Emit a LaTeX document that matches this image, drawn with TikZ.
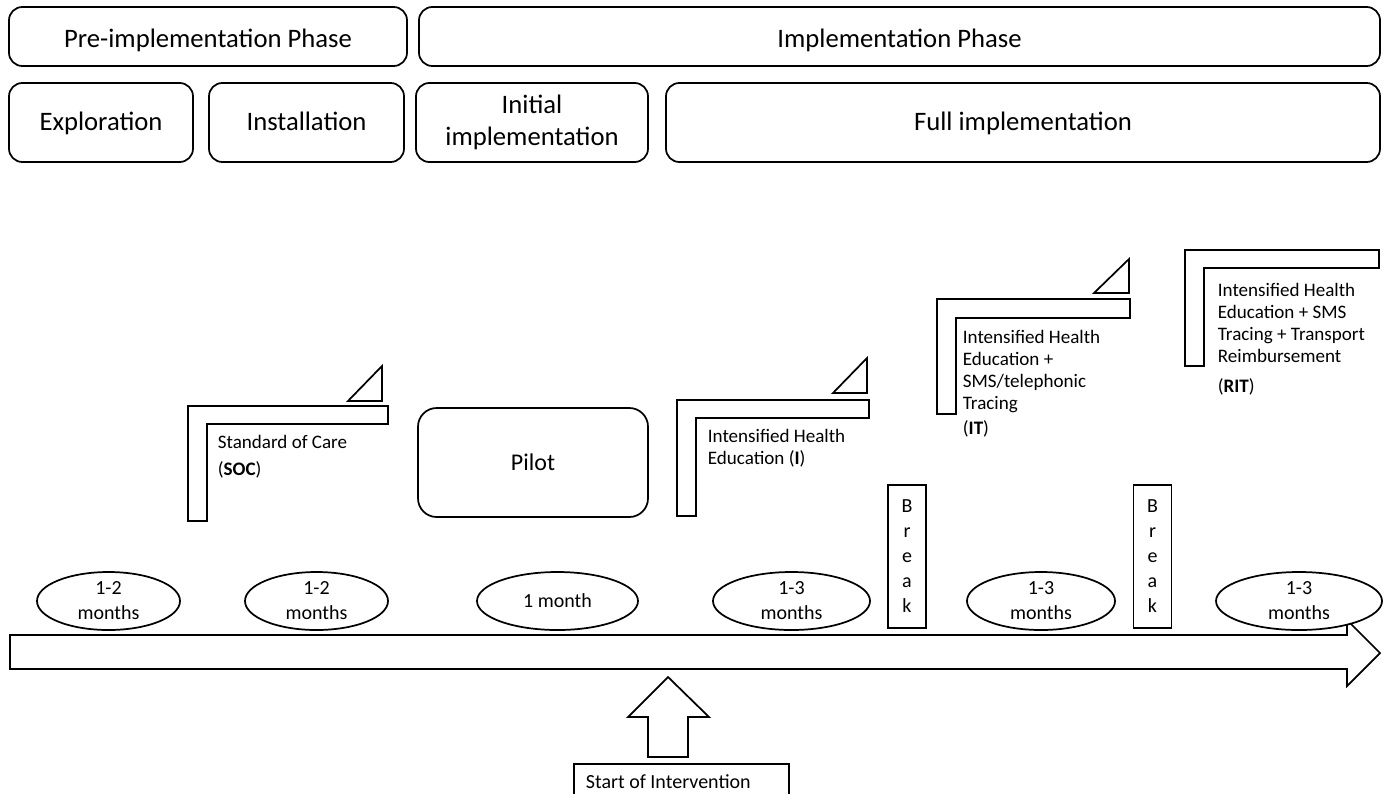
\documentclass[tikz,border=0pt]{standalone}
\usepackage{fontspec}
\setmainfont{Carlito}
\usetikzlibrary{shapes.geometric,positioning}

\tikzset{
  phase/.style={draw, rounded corners=10pt, inner sep=0pt, align=center,
    font=\fontsize{20}{24}\selectfont},
  topline/.style={text height=17pt, text depth=1.25pt},
  oneline/.style={text height=14pt, text depth=2.75pt},
  dur/.style={draw, ellipse, fill=white, inner sep=0pt, minimum height=43.5pt,
    align=center, font=\fontsize{15}{18.75}\selectfont},
  brk/.style={draw, fill=white, inner sep=0pt, minimum width=28.5pt,
    minimum height=107.25pt, align=center, font=\fontsize{15}{18.75}\selectfont},
  arm/.style={anchor=north west, align=left, inner sep=0pt,
    font=\fontsize{14.3}{16.5}\selectfont},
}

\begin{document}
\begin{tikzpicture}[x=0.75pt, y=-0.75pt, line width=1.3pt]
\useasboundingbox (0,0) rectangle (1387,793);
\clip (0,0) rectangle (1387,793);

% phases
\node[phase, topline, minimum width=298.5pt, minimum height=44.25pt] (pre) at (208,36.5) {Pre-implementation Phase};
\node[phase, topline, minimum width=720.75pt, minimum height=44.25pt] (impl) at (899.5,36.5) {Implementation Phase};
\node[phase, oneline, minimum width=138pt, minimum height=59.25pt] (explor) at (101,122.5) {Exploration};
\node[phase, oneline, minimum width=146.25pt, minimum height=59.25pt] (install) at (306.5,122.5) {Installation};
\node[phase, minimum width=174pt, minimum height=59.25pt] (initial) at (532,122.5) {Initial\\implementation};
\node[phase, oneline, minimum width=535.5pt, minimum height=59.25pt] (full) at (1023,122.5) {Full implementation};
\node[phase, oneline, rounded corners=14pt, font=\fontsize{18}{22}\selectfont,
  minimum width=172.5pt, minimum height=81.75pt] (pilot) at (533,462.5) {Pilot};

% arms
\draw (188,406) -- (388,406) -- (388,424) -- (207,424) -- (207,521) -- (188,521) -- cycle;
\draw (348,401) -- (382,401) -- (382,366) -- cycle;
\node[arm] (soc) at (217,434) {Standard of Care\\[3.75pt](\textbf{SOC})};

\draw (677,400) -- (869,400) -- (869,418) -- (696,418) -- (696,516) -- (677,516) -- cycle;
\draw (833,393) -- (867,393) -- (867,358) -- cycle;
\node[arm] (int) at (707,428.5) {Intensified Health\\Education (\textbf{I})};

\draw (937,299) -- (1130,299) -- (1130,318) -- (956,318) -- (956,414) -- (937,414) -- cycle;
\draw (1094,293) -- (1129,293) -- (1129,259) -- cycle;
\node[arm] (it) at (962,329) {Intensified Health\\Education +\\SMS/telephonic\\Tracing\\[2.25pt](\textbf{IT})};

\draw (1185,250) -- (1379,250) -- (1379,268) -- (1204,268) -- (1204,366) -- (1185,366) -- cycle;
\node[arm] (rit) at (1217,282.5) {Intensified Health\\Education + SMS\\Tracing + Transport\\Reimbursement\\[6pt](\textbf{RIT})};

% timeline
\draw (10,635) -- (1347,635) -- (1347,620) -- (1380,653) -- (1347,686) -- (1347,669) -- (10,669) -- cycle;

\node[dur, minimum width=107.25pt] (d1) at (108.5,601) {1-2\\months};
\node[dur, minimum width=107.25pt] (d2) at (316.5,601) {1-2\\months};
\node[dur, minimum width=120.75pt] (d3) at (557.5,601) {1 month};
\node[dur, minimum width=117.75pt] (d4) at (791.5,601) {1-3\\months};
\node[dur, minimum width=111pt] (d5) at (1041,601) {1-3\\months};
\node[dur, minimum width=124.5pt] (d6) at (1299,601) {1-3\\months};

\node[brk] (b1) at (907,556.5) {B\\r\\e\\a\\k};
\node[brk] (b2) at (1152.5,556.5) {B\\r\\e\\a\\k};

% start of intervention
\draw (668,677) -- (709,717) -- (688,717) -- (688,757) -- (648,757) -- (648,717) -- (628,717) -- cycle;
\node[draw, anchor=north west, inner sep=0pt, minimum width=161.25pt, minimum height=40pt] (startbox) at (573,763) {};
\node[anchor=base west, inner sep=0pt, font=\fontsize{15}{18}\selectfont] (start) at (585,788) {Start of Intervention};
\end{tikzpicture}
\end{document}
